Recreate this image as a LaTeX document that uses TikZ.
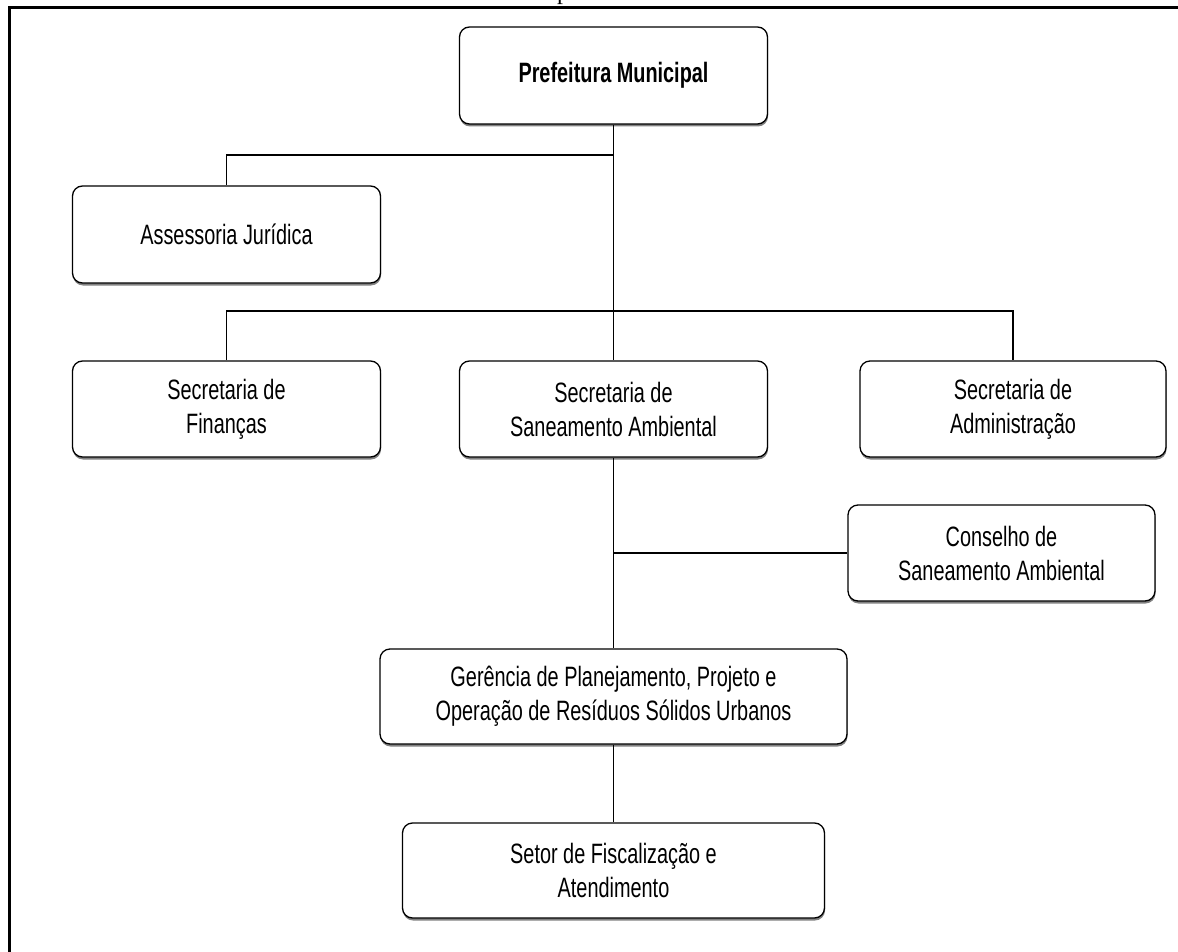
\documentclass[tikz,border=0pt]{standalone}
\usepackage{fontspec}
\setmainfont{Liberation Sans}[FakeStretch=0.71]
\newfontfamily\serifp{Liberation Serif}
\usetikzlibrary{shadows}
\begin{document}
\begin{tikzpicture}[x=1pt,y=-1pt,
  box/.style={draw=black, line width=1.3pt, rounded corners=10pt, fill=white,
    align=center, inner sep=0pt, font=\fontsize{28}{34}\selectfont,
    drop shadow={shadow xshift=0.5pt, shadow yshift=-2.5pt, fill=black!55, opacity=0.9}},
  conn/.style={draw=black, line width=1.4pt},
  frame/.style={draw=black, line width=3pt}]
\useasboundingbox (0,0) rectangle (1178,952);
% page frame
\coordinate (fa) at (9.5,952);
\coordinate (fb) at (9.5,7.5);
\coordinate (fc) at (1178,7.5);
\draw[frame] (fa) -- (fb) -- (fc);
\node[font=\serifp\fontsize{24}{24}\selectfont, anchor=base west, inner sep=0pt] (pg) at (557,-0.5) {p};
% boxes
\node[box, minimum width=308pt, minimum height=97pt, font=\bfseries\fontsize{28}{34}\selectfont] (pm) at (613.5,75.5) {Prefeitura Municipal};
\node[box, minimum width=308pt, minimum height=97pt] (aj) at (226.5,234.5) {Assessoria Jurídica};
\node[box, minimum width=308pt, minimum height=96pt] (sf) at (226.5,409) {Secretaria de\\Finanças};
\node[box, minimum width=308pt, minimum height=96pt] (ssa) at (613.5,409) {Secretaria de\\Saneamento Ambiental};
\node[box, minimum width=306pt, minimum height=96pt] (sad) at (1013,409) {Secretaria de\\Administração};
\node[box, minimum width=307pt, minimum height=96pt] (csa) at (1001.5,553) {Conselho de\\Saneamento Ambiental};
\node[box, minimum width=467pt, minimum height=95pt] (gp) at (613.5,696.5) {Gerência de Planejamento, Projeto e\\Operação de Resíduos Sólidos Urbanos};
\node[box, minimum width=422pt, minimum height=95pt] (sfa) at (613.5,870.5) {Setor de Fiscalização e\\Atendimento};
% junctions
\coordinate (j1) at (613.5,155);
\coordinate (j2) at (613.5,311);
\coordinate (j3) at (613.5,553);
% connectors
\begin{scope}[on background layer/.style={}]
\end{scope}
\draw[conn] (pm.south) -- (ssa.north);
\draw[conn] (j1) -| (aj.north);
\draw[conn] (sf.north) |- (j2) -| (sad.north);
\draw[conn] (ssa.south) -- (gp.north);
\draw[conn] (j3) -- (csa.west);
\draw[conn] (gp.south) -- (sfa.north);
\end{tikzpicture}
\end{document}
